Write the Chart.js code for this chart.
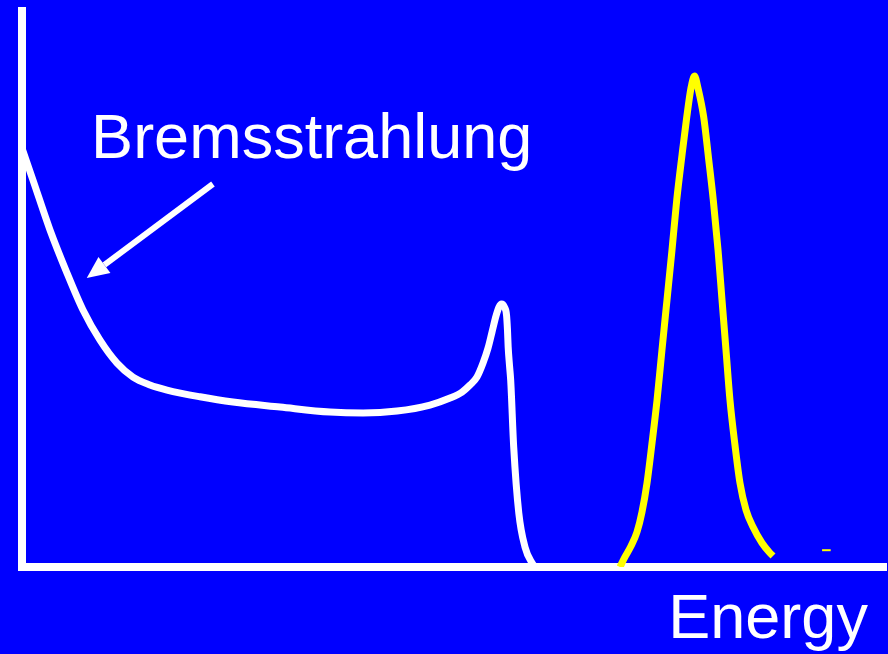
<!DOCTYPE html>
<html>
<head>
<meta charset="utf-8">
<script src="https://cdn.jsdelivr.net/npm/chart.js@4.4.0/dist/chart.umd.min.js"></script>
<style>
    body { margin: 0; background: #0000ff; }
    #chart { display: block; background: #0000ff; }
</style>
</head>
<body>
<canvas id="chart" width="888" height="654"></canvas>
<script>
// white spectrum: bremsstrahlung continuum + characteristic peak
const bremsX = [0, 1.27, 3.24, 5.21, 7.06, 9.03, 11.0, 12.85, 14.81, 16.78, 20.6, 24.42, 29.86, 35.65, 39.47, 43.4, 47.22, 49.54, 50.93, 51.85, 52.66, 53.36, 53.94, 54.40, 54.86, 55.21, 55.50, 55.84, 56.08, 56.19, 56.27, 56.42, 56.56, 56.91, 57.50, 58.22, 59.03, 59.38];
const bremsY = [74.8, 69.1, 60.2, 52.5, 45.9, 40.5, 36.4, 33.9, 32.5, 31.6, 30.4, 29.46, 28.57, 27.68, 27.5, 27.86, 28.93, 30.18, 31.25, 32.5, 33.93, 36.43, 39.11, 41.96, 44.82, 46.43, 46.96, 46.43, 45.0, 42.32, 39.29, 36.07, 33.39, 21.43, 9.64, 3.57, 0.71, 0];

// yellow photopeak
const peakX = [69.21, 69.79, 70.49, 71.18, 71.76, 72.34, 72.92, 73.5, 74.07, 74.65, 75.23, 75.78, 76.39, 76.94, 77.43, 77.84, 78.24, 78.90, 79.46, 80.01, 80.56, 81.02, 81.48, 81.94, 82.52, 83.1, 83.8, 84.61, 85.65, 86.57, 86.92];
const peakY = [0, 1.79, 3.75, 6.25, 9.82, 15.0, 22.14, 29.82, 38.75, 47.68, 56.61, 65.54, 73.57, 80.36, 85.54, 87.68, 85.54, 80.36, 73.04, 65.54, 56.61, 47.68, 38.75, 29.82, 21.79, 15.0, 10.18, 7.14, 4.29, 2.5, 1.96];

// small yellow tick at the right
const dashX = [92.6, 93.6];
const dashY = [3.0, 3.0];

const labelText = 'Bremsstrahlung';
const axisText = 'Energy';

function toPoints(xs, ys) {
    return xs.map((x, i) => ({ x: x, y: ys[i] }));
}

const annotations = {
    id: 'annotations',
    afterDatasetsDraw(chart) {
        const ctx = chart.ctx;
        const xs = chart.scales.x;
        const ys = chart.scales.y;
        const area = chart.chartArea;
        ctx.save();
        ctx.fillStyle = '#ffffff';
        ctx.strokeStyle = '#ffffff';
        ctx.font = '63px "Liberation Sans", Arial, sans-serif';
        ctx.textBaseline = 'alphabetic';
        ctx.textAlign = 'left';
        ctx.fillText(labelText, xs.getPixelForValue(8.0), ys.getPixelForValue(73.0));
        ctx.fillText(axisText, xs.getPixelForValue(74.8), area.bottom + 71);

        // arrow pointing at the continuum
        const x1 = xs.getPixelForValue(22.1), y1 = ys.getPixelForValue(68.4);
        const x2 = xs.getPixelForValue(7.5), y2 = ys.getPixelForValue(51.6);
        const ang = Math.atan2(y2 - y1, x2 - x1);
        const head = 22, half = 10;
        const bx = x2 - head * Math.cos(ang), by = y2 - head * Math.sin(ang);
        ctx.lineWidth = 6;
        ctx.beginPath();
        ctx.moveTo(x1, y1);
        ctx.lineTo(bx, by);
        ctx.stroke();
        ctx.beginPath();
        ctx.moveTo(x2, y2);
        ctx.lineTo(bx + half * Math.sin(ang), by - half * Math.cos(ang));
        ctx.lineTo(bx - half * Math.sin(ang), by + half * Math.cos(ang));
        ctx.closePath();
        ctx.fill();
        ctx.restore();
    }
};

document.addEventListener("DOMContentLoaded", () => {
    const ctx = document.getElementById('chart').getContext('2d');
    new Chart(ctx, {
        type: 'line',
        data: {
            datasets: [{
                data: toPoints(bremsX, bremsY),
                borderColor: '#ffffff',
                borderWidth: 7,
                cubicInterpolationMode: 'monotone',
                pointRadius: 0
            }, {
                data: toPoints(peakX, peakY),
                borderColor: '#ffff00',
                borderWidth: 7,
                cubicInterpolationMode: 'monotone',
                pointRadius: 0
            }, {
                data: toPoints(dashX, dashY),
                borderColor: '#ffff00',
                borderWidth: 2,
                pointRadius: 0
            }]
        },
        options: {
            responsive: false,
            animation: false,
            layout: { padding: { left: 22, right: 2, top: 11, bottom: 87 } },
            plugins: {
                legend: { display: false },
                tooltip: { enabled: false }
            },
            scales: {
                x: {
                    type: 'linear',
                    min: 0,
                    max: 100,
                    ticks: { display: false },
                    grid: { display: false, drawTicks: false },
                    border: { display: true, color: '#ffffff', width: 8 }
                },
                y: {
                    min: 0,
                    max: 99.3,
                    ticks: { display: false },
                    grid: { display: false, drawTicks: false },
                    border: { display: true, color: '#ffffff', width: 8 }
                }
            }
        },
        plugins: [annotations]
    });
});
</script>
</body>
</html>
